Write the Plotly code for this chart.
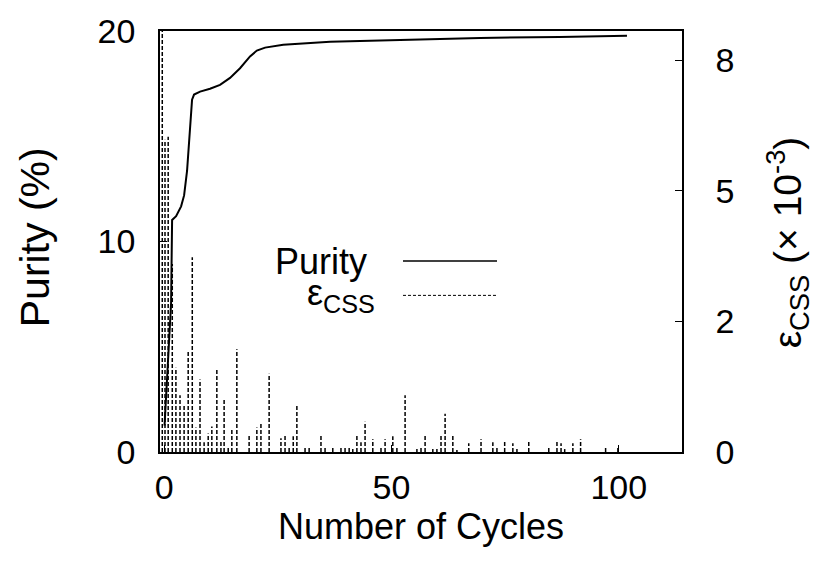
import plotly.graph_objects as go

# ---- data ----
cycles_purity = [0.1, 1.54, 1.76, 2.64, 3.74, 4.4, 5.05, 5.71, 6.15, 6.59, 7.91, 10.1, 12.3,
                 14.5, 16.7, 18.9, 20.4, 22.2, 26.2, 36.5, 51.9, 69.5, 87.0, 101.8]
purity = [1.26, 7.07, 11.02, 11.2, 11.67, 12.19, 13.35, 15.44, 16.74, 16.98, 17.12, 17.26, 17.44,
          17.77, 18.23, 18.79, 19.07, 19.21, 19.35, 19.49, 19.58, 19.67, 19.72, 19.77]

cycles_eps = [-0.4, 0.2, 0.9, 1.8, 2.6, 3.5, 4.4, 5.3, 6.2, 7.0, 7.9, 8.8, 9.7, 10.5, 11.6, 12.5,
              13.2, 14.1, 14.9, 16.0, 18.7, 20.4, 21.3, 23.1, 25.7, 26.6, 27.5, 28.4, 29.2, 31.0,
              31.9, 34.5, 35.4, 37.1, 38.9, 39.8, 40.7, 41.5, 42.4, 43.3, 44.2, 45.9, 47.7, 48.6,
              50.3, 51.2, 53.0, 55.6, 56.5, 57.4, 59.1, 60.0, 60.9, 61.8, 63.5, 64.4, 67.0, 69.7,
              72.3, 73.2, 74.9, 76.7, 77.6, 80.2, 84.6, 86.4, 87.3, 88.1, 89.9, 91.6, 97.1, 99.8]
eps_css = [10.0, 6.38, 6.44, 3.84, 1.72, 1.16, 0.96, 2.06, 3.98, 0.5, 1.48, 0.2, 0.38, 0.52, 1.7,
           0.24, 1.06, 0.12, 0.46, 2.1, 0.34, 0.5, 0.58, 1.6, 0.28, 0.34, 0.12, 0.32, 0.96, 0.1,
           0.1, 0.36, 0.08, 0.1, 0.12, 0.12, 0.12, 0.06, 0.34, 0.2, 0.62, 0.26, 0.08, 0.26,
           0.32, 0.12, 1.16, 0.06, 0.08, 0.36, 0.06, 0.06, 0.36, 0.78, 0.36, 0.04, 0.18, 0.26,
           0.2, 0.1, 0.24, 0.18, 0.06, 0.22, 0.1, 0.24, 0.18, 0.06, 0.18, 0.26, 0.1, 0.12]

x_ticks = [0, 50, 100]
y_ticks = [0, 10, 20]
y2_tickvals = [0, 8 / 3, 16 / 3, 8]
y2_ticktext = ["0", "2", "5", "8"]

FONT = "Liberation Sans, Arial, sans-serif"
TICK_FS = 34
TITLE_FS = 36

xs, ys = [], []
for c, v in zip(cycles_eps, eps_css):
    xs += [c, c, None]
    ys += [0, v, None]

fig = go.Figure()
fig.add_trace(go.Scatter(x=xs, y=ys, mode="lines", yaxis="y2", showlegend=False,
                         line=dict(color="black", width=1.5, dash="4px,2px")))
fig.add_trace(go.Scatter(x=cycles_purity, y=purity, mode="lines", showlegend=False,
                         line=dict(color="black", width=2)))

axis_common = dict(showgrid=False, zeroline=False, showline=True, linecolor="black",
                   linewidth=1.5, ticks="inside", ticklen=7, tickcolor="black",
                   tickfont=dict(family=FONT, size=TICK_FS, color="black"))

fig.update_layout(
    width=815, height=563,
    margin=dict(l=160, r=133, t=22, b=111),
    paper_bgcolor="white", plot_bgcolor="white",
    font=dict(family=FONT, size=TITLE_FS, color="black"),
    xaxis=dict(range=[-0.9, 113.9], tickvals=x_ticks, mirror=True, ticklabelstandoff=4,
               title=dict(text="Number of Cycles", standoff=6,
                          font=dict(family=FONT, size=TITLE_FS)),
               **axis_common),
    yaxis=dict(range=[0, 20], tickvals=y_ticks, ticklabelstandoff=16, **axis_common),
    yaxis2=dict(range=[0, 8.6], overlaying="y", side="right", tickvals=y2_tickvals,
                ticktext=y2_ticktext, ticklabelstandoff=25, **axis_common),
)

# axis titles for the two y axes
fig.add_annotation(x=-0.2395, y=0.51, xref="paper", yref="paper", text="Purity (%)",
                   textangle=-90, showarrow=False, xanchor="center", yanchor="middle",
                   font=dict(family=FONT, size=41))
fig.add_annotation(x=1.203, y=0.498, xref="paper", yref="paper",
                   text="ε<sub>CSS</sub> (× 10<sup>-3</sup>)",
                   textangle=-90, showarrow=False, xanchor="center", yanchor="middle",
                   font=dict(family=FONT, size=39))

# legend (gnuplot style: text right-aligned, sample to the right)
fig.add_annotation(x=0.400, y=0.453, xref="paper", yref="paper", text="Purity",
                   showarrow=False, xanchor="right", yanchor="middle",
                   font=dict(family=FONT, size=TITLE_FS))
fig.add_annotation(x=0.416, y=0.372, xref="paper", yref="paper", text="ε<sub>CSS</sub>",
                   showarrow=False, xanchor="right", yanchor="middle",
                   font=dict(family=FONT, size=TITLE_FS))
fig.add_shape(type="line", xref="paper", yref="paper", x0=0.4655, x1=0.6456, y0=0.4535, y1=0.4535,
              line=dict(color="black", width=1.5))
fig.add_shape(type="line", xref="paper", yref="paper", x0=0.4655, x1=0.6456, y0=0.372, y1=0.372,
              line=dict(color="black", width=1, dash="3px,2px"))

fig.write_html("out.html")
